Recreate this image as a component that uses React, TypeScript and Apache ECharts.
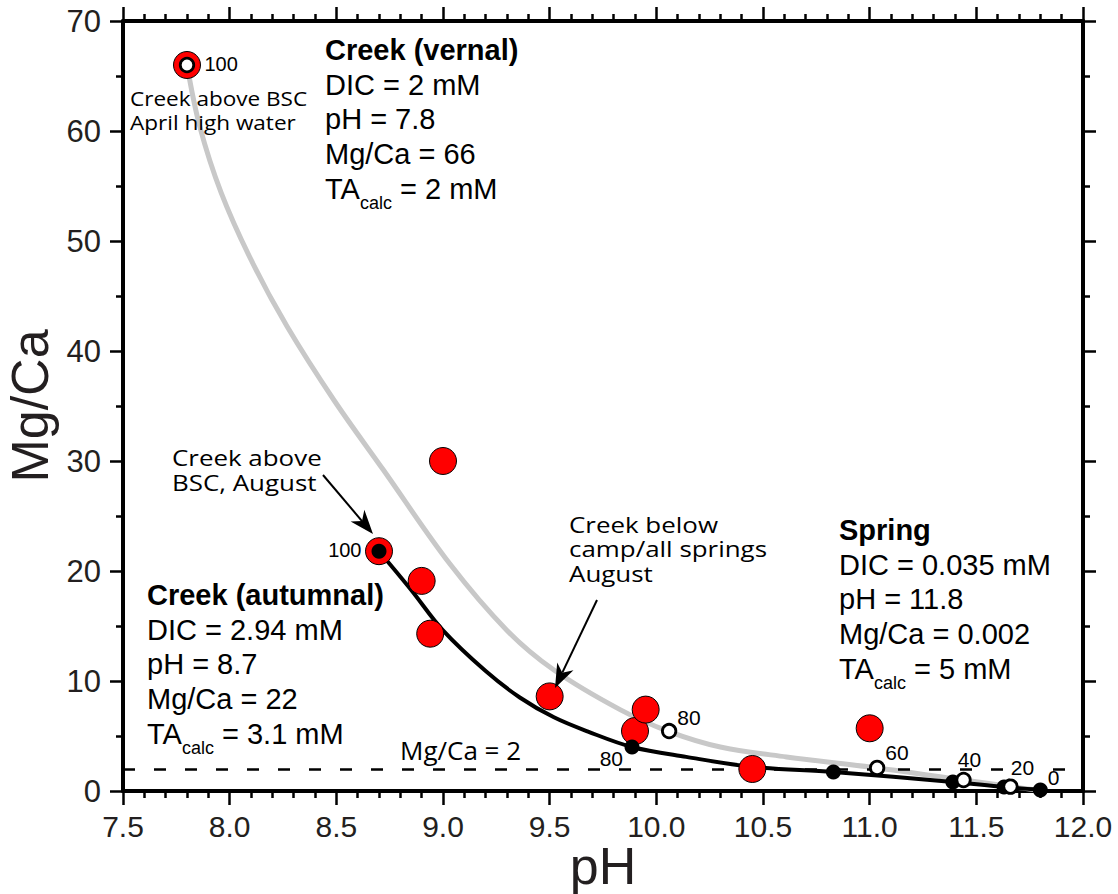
import { useEffect, useRef } from 'react';
import * as echarts from 'echarts';

// ---------- data ----------
const xMin = 7.5;
const xMax = 12.0;
const xStep = 0.5;
const yMin = 0;
const yMax = 70;
const yStep = 10;

// vernal (April) mixing curve, grey
const vernalMixingCurve: number[][] = [
  [7.80, 66.0], [7.86, 60.4], [7.96, 54.4], [8.10, 48.3], [8.27, 42.2],
  [8.49, 35.5], [8.72, 29.2], [9.03, 20.7], [9.30, 14.6], [9.52, 11.0],
  [9.83, 7.4], [10.06, 5.4], [10.30, 4.0], [10.61, 3.1], [11.035, 2.1],
  [11.44, 1.0], [11.66, 0.4], [11.80, 0.05],
];

// autumnal (August) mixing curve, black
const autumnalMixingCurve: number[][] = [
  [8.70, 21.8], [8.85, 18.3], [9.00, 14.6], [9.20, 10.9], [9.36, 8.5],
  [9.52, 6.7], [9.68, 5.4], [9.886, 4.0], [10.14, 3.1], [10.45, 2.2],
  [10.83, 1.73], [11.39, 0.82], [11.63, 0.36], [11.80, 0.1],
];

// measured creek samples (red)
const measuredSamples: number[][] = [
  [8.90, 19.1], [8.94, 14.3], [9.00, 30.0], [9.50, 8.6],
  [9.90, 5.45], [9.95, 7.4], [10.45, 2.0], [11.00, 5.7],
];
// creek end-members (red with mixing marker inside)
const creekEndmembers: number[][] = [[7.8, 66.0], [8.7, 21.8]];
const creekEndmemberLabels = ['100', '100'];

// % creek water markers on the vernal curve (open)
const vernalMixPoints: number[][] = [[7.8, 66.0], [10.06, 5.45], [11.035, 2.1], [11.44, 1.0], [11.66, 0.4]];
const vernalMixLabels = ['', '80', '60', '40', '20'];

// % creek water markers on the autumnal curve (filled)
const autumnalMixPoints: number[][] = [[8.7, 21.8], [9.886, 4.0], [10.83, 1.73], [11.39, 0.82], [11.63, 0.36], [11.80, 0.1]];
const autumnalMixLabels = ['', '80', '', '', '', '0'];

const thresholdMgCa = 2;
const thresholdEndPH = 11.93;

// text
const xAxisTitle = 'pH';
const yAxisTitle = 'Mg/Ca';
const aprilNote = ['Creek above BSC', 'April high water'];
const augustNote = ['Creek above', 'BSC, August'];
const belowNote = ['Creek below', 'camp/all springs', 'August'];
const thresholdNote = 'Mg/Ca = 2';
const vernalBlock = { title: 'Creek (vernal)', lines: ['DIC = 2 mM', 'pH = 7.8', 'Mg/Ca = 66'], ta: ' = 2 mM' };
const autumnalBlock = { title: 'Creek (autumnal)', lines: ['DIC = 2.94 mM', 'pH = 8.7', 'Mg/Ca = 22'], ta: ' = 3.1 mM' };
const springBlock = { title: 'Spring', lines: ['DIC = 0.035 mM', 'pH = 11.8', 'Mg/Ca = 0.002'], ta: ' = 5 mM' };

// ---------- styling / layout ----------
const HELV = '"Liberation Sans", Arial, Helvetica, sans-serif';
const MYR = '"Open Sans", "Noto Sans", sans-serif';
const AXIS_TEXT = '#231f20';

let measureCtx: CanvasRenderingContext2D | null = null;
function textWidth(text: string, size: number, family: string, weight = 'normal') {
  if (!measureCtx) measureCtx = document.createElement('canvas').getContext('2d');
  if (!measureCtx) return text.length * size * 0.55;
  measureCtx.font = `${weight} ${size}px ${family}`;
  return measureCtx.measureText(text).width;
}

function txt(x: number, y: number, text: string, size: number, family: string, extra: any = {}, el: any = {}) {
  return {
    type: 'text', x, y, silent: true, z: 100, ...el,
    style: {
      text, fill: '#000', fontSize: size, fontFamily: family,
      align: 'left', verticalAlign: 'middle', ...extra,
    },
  };
}

function block(b: { title: string; lines: string[]; ta: string }, x: number, y0: number) {
  const size = 29;
  const step = 34.7;
  const els: any[] = [];
  els.push(txt(x, y0, b.title, size, HELV, { fontWeight: 'bold' }));
  els.push(txt(x, y0 + step / 2, b.lines.join('\n'), size, HELV, { verticalAlign: 'top', lineHeight: step }));
  const yTA = y0 + step * 4;
  const wTA = textWidth('TA', size, HELV);
  const wSub = textWidth('calc', 18, HELV);
  els.push(txt(x, yTA, 'TA', size, HELV));
  els.push(txt(x + wTA, yTA + 14, 'calc', 18, HELV));
  els.push(txt(x + wTA + wSub, yTA, b.ta, size, HELV));
  return els;
}

// annotation notes: a slightly condensed-height face stretched to the reference's widths
function note(ls: string[], x: number, yFirst: number, step: number, size: number, stretch: number) {
  return txt(x, yFirst - step / 2, ls.join('\n'), size, MYR,
    { verticalAlign: 'top', lineHeight: step }, { scaleX: stretch });
}

function arrow(x1: number, y1: number, x2: number, y2: number) {
  const dx = x2 - x1, dy = y2 - y1;
  const len = Math.hypot(dx, dy);
  const ux = dx / len, uy = dy / len;
  const nx = -uy, ny = ux;
  const L = 24, W = 9, notch = 7;
  const bx = x2 - ux * L, by = y2 - uy * L;
  const mx = x2 - ux * (L - notch), my = y2 - uy * (L - notch);
  return [
    { type: 'line', silent: true, z: 100, shape: { x1, y1, x2: mx, y2: my }, style: { stroke: '#000', lineWidth: 2 } },
    {
      type: 'polygon', silent: true, z: 100,
      shape: { points: [[x2, y2], [bx + nx * W, by + ny * W], [mx, my], [bx - nx * W, by - ny * W]] },
      style: { fill: '#000' },
    },
  ];
}

function xAxisDef(position: 'bottom' | 'top', showLabel: boolean) {
  return {
    type: 'value', position, min: xMin, max: xMax, interval: xStep,
    axisLine: { show: true, onZero: false, lineStyle: { color: '#000', width: 4 } },
    axisTick: { show: true, inside: false, length: 14, lineStyle: { color: '#000', width: 2.5 } },
    minorTick: { show: true, splitNumber: 5, length: 7, lineStyle: { color: '#000', width: 2.5 } },
    splitLine: { show: false }, minorSplitLine: { show: false },
    axisLabel: {
      show: showLabel, fontSize: 30, fontFamily: HELV, color: AXIS_TEXT, margin: 20,
      formatter: (v: number) => v.toFixed(1),
    },
  };
}

function yAxisDef(position: 'left' | 'right', showLabel: boolean) {
  return {
    type: 'value', position, min: yMin, max: yMax, interval: yStep,
    axisLine: { show: true, onZero: false, lineStyle: { color: '#000', width: 4 } },
    axisTick: { show: true, inside: false, length: 13, lineStyle: { color: '#000', width: 2.5 } },
    minorTick: { show: true, splitNumber: 2, length: 7, lineStyle: { color: '#000', width: 2.5 } },
    splitLine: { show: false }, minorSplitLine: { show: false },
    axisLabel: {
      show: showLabel, fontSize: 31, fontFamily: HELV, color: AXIS_TEXT, margin: 22,
      formatter: (v: number) => String(Math.round(v)),
    },
  };
}

const numLabel = { fontSize: 21, fontFamily: HELV, color: '#000' };

function buildOption() {
  const endLabelPlacement = [
    { position: 'right', distance: 3.5, offset: [0, -1] },
    { position: 'left', distance: 3.5, offset: [0, -1] },
  ];
  const vernalPlacement: any[] = [
    null,
    { position: 'right', distance: 0, offset: [0, -14] },
    { position: 'right', distance: 0, offset: [0, -15] },
    { position: 'top', distance: 2, offset: [6, 0] },
    { position: 'top', distance: 0, offset: [12, 0], backgroundColor: '#fff', padding: [0, 1, 0, 1] },
  ];
  const autumnalPlacement: any[] = [
    null,
    { position: 'left', distance: 1.5, offset: [0, 11] },
    null, null, null,
    { position: 'right', distance: 0, offset: [0, -12] },
  ];

  const redData = [
    ...measuredSamples.map((p) => ({ value: p })),
    ...creekEndmembers.map((p, i) => ({
      value: p,
      label: { show: true, formatter: creekEndmemberLabels[i], ...numLabel, fontSize: 20, ...endLabelPlacement[i] },
    })),
  ];
  const whiteData = vernalMixPoints.map((p, i) => (vernalMixLabels[i]
    ? { value: p, label: { show: true, formatter: vernalMixLabels[i], ...numLabel, ...vernalPlacement[i] } }
    : { value: p }));
  const blackData = autumnalMixPoints.map((p, i) => (autumnalMixLabels[i]
    ? { value: p, label: { show: true, formatter: autumnalMixLabels[i], ...numLabel, ...autumnalPlacement[i] } }
    : { value: p }));

  const graphic: any[] = [
    // axis titles
    {
      type: 'text', x: 30, y: 406, rotation: Math.PI / 2, silent: true,
      style: { text: yAxisTitle, fill: AXIS_TEXT, fontSize: 52, fontFamily: HELV, align: 'center', verticalAlign: 'middle' },
    },
    {
      type: 'text', x: 603, y: 866, silent: true,
      style: { text: xAxisTitle, fill: AXIS_TEXT, fontSize: 52, fontFamily: HELV, align: 'center', verticalAlign: 'middle' },
    },
    ...block(vernalBlock, 325, 50),
    ...block(autumnalBlock, 147, 595),
    ...block(springBlock, 839, 530),
    note(aprilNote, 130, 98, 24, 20.5, 1.1),
    note(augustNote, 172, 458, 25, 21, 1.235),
    note(belowNote, 569, 525, 24.5, 21, 1.235),
    txt(400, 750, thresholdNote, 26, MYR),
    ...arrow(323, 475, 373, 534),
    ...arrow(597, 600, 555, 688),
  ];

  return {
    animation: false,
    backgroundColor: '#fff',
    grid: { left: 123, top: 21, width: 960, height: 770 },
    xAxis: [xAxisDef('bottom', true), xAxisDef('top', false)],
    yAxis: [yAxisDef('left', true), yAxisDef('right', false)],
    series: [
      {
        type: 'line', data: vernalMixingCurve, smooth: 0.35,
        symbol: 'none', showSymbol: false, silent: true, z: 2,
        lineStyle: { color: '#c8c8c8', width: 5 },
      },
      {
        type: 'line', data: autumnalMixingCurve, smooth: 0.35,
        symbol: 'none', showSymbol: false, silent: true, z: 3,
        lineStyle: { color: '#000', width: 4 },
        markLine: {
          silent: true, symbol: ['none', 'none'], label: { show: false },
          lineStyle: { color: '#000', width: 2.5, type: [12, 19] },
          data: [[{ coord: [xMin, thresholdMgCa] }, { coord: [thresholdEndPH, thresholdMgCa] }]],
        },
      },
      {
        type: 'scatter', data: redData, symbol: 'circle', symbolSize: 27, z: 5, silent: true,
        itemStyle: { color: '#ff0000', borderColor: '#000', borderWidth: 1, opacity: 1 },
      },
      {
        type: 'scatter', data: blackData, symbol: 'circle', symbolSize: 15, z: 6, silent: true,
        itemStyle: { color: '#000', opacity: 1 },
      },
      {
        type: 'scatter', data: whiteData, symbol: 'circle', symbolSize: 13.5, z: 7, silent: true,
        itemStyle: { color: '#fff', borderColor: '#000', borderWidth: 2.8, opacity: 1 },
      },
    ],
    graphic,
  };
}

export default function App() {
  const ref = useRef<HTMLDivElement>(null);
  useEffect(() => {
    const el = ref.current;
    if (!el) return;
    const chart = echarts.init(el, null, { renderer: 'svg' });
    chart.setOption(buildOption() as any);
    return () => chart.dispose();
  }, []);
  return (
    <div
      ref={ref}
      style={{ position: 'fixed', left: 0, top: 0, width: 1118, height: 894, background: '#fff' }}
    />
  );
}
